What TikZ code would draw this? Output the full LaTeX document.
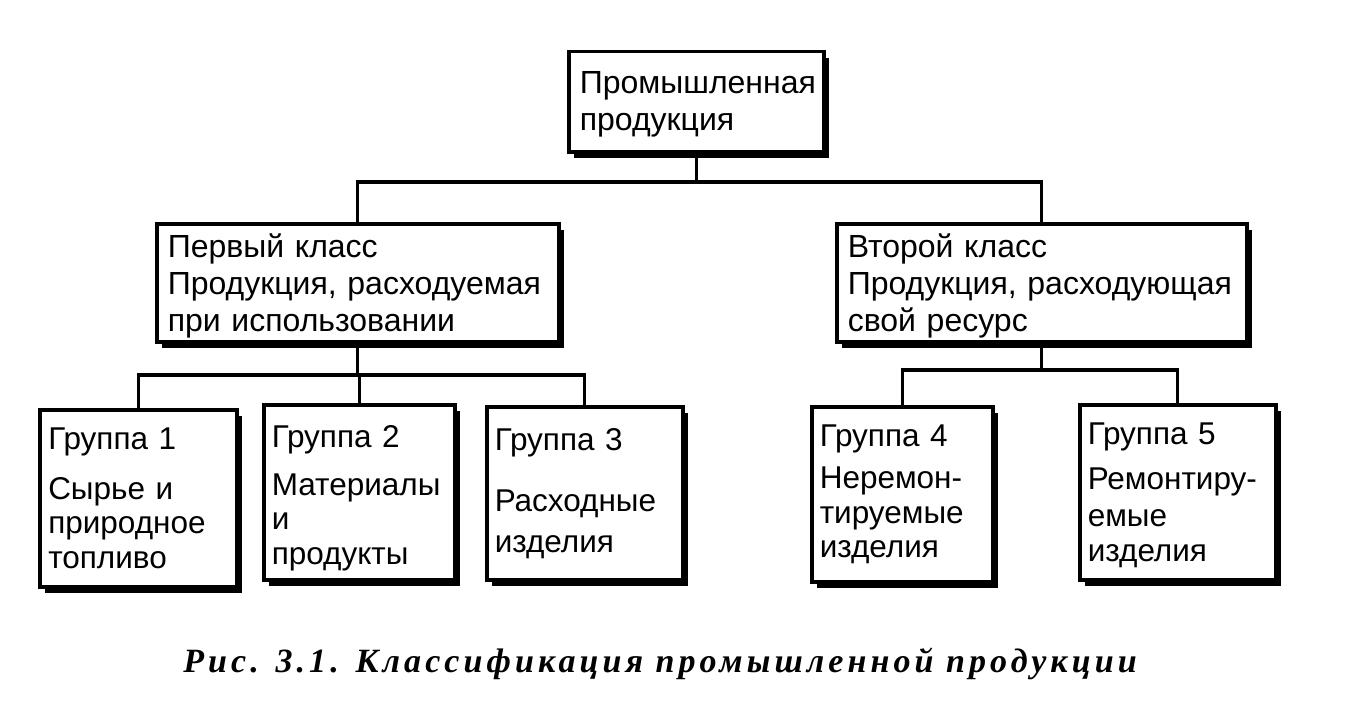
\documentclass[tikz,border=0pt]{standalone}
\usepackage{fontspec}
\setmainfont{Liberation Sans}
\newfontfamily\capfont[LetterSpace=12]{Liberation Serif}
\usetikzlibrary{shadows}
\begin{document}
\begin{tikzpicture}[x=1pt,y=-1pt,
  box/.style={draw, line width=3.5pt, fill=white, anchor=north west,
    drop shadow={shadow xshift=5pt, shadow yshift=-6pt, fill=black, opacity=1},
    align=left, inner xsep=11pt, inner ysep=0pt,
    font=\fontsize{32}{37}\selectfont},
  grp/.style={box, font=\fontsize{31.5}{34.5}\selectfont},
  conn/.style={line width=3.2pt}]
\useasboundingbox[fill=white] (0,0) rectangle (1346,725);
% top
\node[box, minimum width=255pt, minimum height=100pt, text width=233pt] (top) at (567,50)
  {\rule{0pt}{28pt}Промышленная\\продукция};
% classes
\node[box, minimum width=402pt, minimum height=118pt, text width=380pt] (c1) at (155,222)
  {\rule{0pt}{31pt}Первый класс\\Продукция, расходуемая\\при использовании};
\node[box, minimum width=410pt, minimum height=118pt, text width=388pt] (c2) at (835,222)
  {\rule{0pt}{31pt}Второй класс\\Продукция, расходующая\\свой ресурс};
% groups
\node[grp, minimum width=197pt, minimum height=177pt, text width=180pt, inner xsep=8pt] (g1) at (38,408)
  {Группа 1\\[15pt]Сырье и\\природное\\топливо};
\node[grp, minimum width=190pt, minimum height=175pt, text width=175pt, inner xsep=8pt] (g2) at (262,403)
  {\rule{0pt}{34pt}Группа 2\\[13pt]Материалы\\и\\продукты};
\node[grp, minimum width=195pt, minimum height=173pt, text width=180pt, inner xsep=8pt] (g3) at (485,405)
  {Группа 3\\[27pt]Расходные\\[6pt]изделия\\[37pt]};
\node[grp, minimum width=180pt, minimum height=175pt, text width=165pt, inner xsep=8pt] (g4) at (810,405)
  {Группа 4\\[8pt]Неремон-\\тируемые\\изделия};
\node[grp, minimum width=195pt, minimum height=175pt, text width=180pt, inner xsep=8pt] (g5) at (1078,403)
  {\rule{0pt}{28pt}Группа 5\\[10pt]Ремонтиру-\\[3pt]емые\\изделия};
% connectors
\coordinate (j0) at (697,182);
\coordinate (j1) at (356,375);
\coordinate (j2) at (1040,370);
\draw[conn] (top.south) -- (top.south |- j0);
\draw[conn] (c1.north) |- (j0) -| (c2.north);
\draw[conn] (c1.south) -- (c1.south |- j1);
\draw[conn] (g1.north) |- (j1) -| (g3.north);
\draw[conn] (g2.north) -- (g2.north |- j1);
\draw[conn] (c2.south) -- (c2.south |- j2);
\draw[conn] (g4.north) |- (j2) -| (g5.north);
% caption
\node[font=\capfont\fontsize{34}{40}\selectfont\bfseries\itshape, anchor=center] (cap) at (660,664)
  {Рис. 3.1. Классификация промышленной продукции};
\end{tikzpicture}
\end{document}
